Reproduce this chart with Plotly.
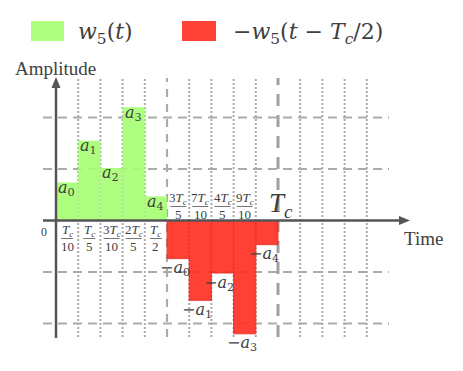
import plotly.graph_objects as go

# coefficient amplitudes a0..a4 and their time slots (units of Tc)
amplitudes = [0.74, 1.55, 1.02, 2.20, 0.47]
slot_starts = [0.0, 0.1, 0.2, 0.3, 0.4]
slot_width = 0.1
shift = 0.5
coef_names = ["0", "1", "2", "3", "4"]

# fraction tick labels (numerator, denominator)
left_ticks = [("<i>T<sub>c</sub></i>", "10"), ("<i>T<sub>c</sub></i>", "5"),
              ("3<i>T<sub>c</sub></i>", "10"), ("2<i>T<sub>c</sub></i>", "5"),
              ("<i>T<sub>c</sub></i>", "2")]
right_ticks = [("3<i>T<sub>c</sub></i>", "5"), ("7<i>T<sub>c</sub></i>", "10"),
               ("4<i>T<sub>c</sub></i>", "5"), ("9<i>T<sub>c</sub></i>", "10")]

W, H = 463, 371
PAD = 8                     # page body margin
X0PX, XSCALE = 56, 222.0    # px of t=0, px per Tc
Y0PX, YSCALE = 220.5, 51.5  # px of amplitude 0, px per unit

def tx(px):
    return (px - X0PX) / XSCALE

def ty(py):
    return (Y0PX - py) / YSCALE

def px_x(px):
    return (px - PAD) / (W - PAD)

def px_y(py):
    return 1 - (py - PAD) / (H - PAD)

SERIF = "Liberation Serif"
MATH = "DejaVu Serif"
TXT = "#404040"
GRID = "#ababab"
AXIS = "#555555"

fig = go.Figure()

centers = [s + slot_width / 2 for s in slot_starts]
fig.add_trace(go.Bar(x=centers, y=amplitudes, width=slot_width,
                     marker=dict(color="#a6ff72", line=dict(width=0)),
                     opacity=0.9, name="w5(t)"))
fig.add_trace(go.Bar(x=[c + shift for c in centers], y=[-a for a in amplitudes],
                     width=slot_width,
                     marker=dict(color="#ff2c20", line=dict(width=1, color="#e62a20")),
                     opacity=0.9, name="-w5(t-Tc/2)"))

shapes = []
top, bottom = ty(78), ty(337)
# vertical grid lines
for k in range(1, 15):
    t = k * slot_width
    if k % 5 == 0:
        thick = (k == 10)
        shapes.append(dict(type="line", x0=t, x1=t, y0=bottom, y1=top, layer="below",
                           line=dict(color="#a0a0a0" if thick else GRID,
                                     width=3 if thick else 2.2,
                                     dash="12px,9px" if thick else "8px,7px")))
    else:
        shapes.append(dict(type="line", x0=t, x1=t, y0=bottom, y1=top, layer="below",
                           line=dict(color=GRID, width=2, dash="2px,2px")))
# horizontal grid lines
for lv in [-2, -1, 1, 2]:
    shapes.append(dict(type="line", x0=tx(43), x1=1.5, y0=lv, y1=lv, layer="below",
                       line=dict(color=GRID, width=2.2, dash="9px,6px")))

# axes with arrow heads
shapes.append(dict(type="line", x0=0, x1=0, y0=ty(338), y1=ty(86),
                   line=dict(color=AXIS, width=2.5)))
shapes.append(dict(type="path", fillcolor=AXIS, line=dict(width=0),
                   path="M %f,%f L %f,%f L %f,%f Z" % (0, ty(77), tx(51.5), ty(88),
                                                       tx(60.5), ty(88))))
shapes.append(dict(type="line", x0=tx(43), x1=tx(400), y0=0, y1=0,
                   line=dict(color=AXIS, width=2.5)))
shapes.append(dict(type="path", fillcolor=AXIS, line=dict(width=0),
                   path="M %f,%f L %f,%f L %f,%f Z" % (tx(410), 0, tx(399), ty(Y0PX - 4.5),
                                                       tx(399), ty(Y0PX + 4.5))))

annotations = []

def label(x, y, text, size, family=SERIF, xshift=0, yshift=0, xref="x", yref="y"):
    annotations.append(dict(x=x, y=y, xref=xref, yref=yref, showarrow=False,
                            xanchor="center", yanchor="middle", align="center",
                            xshift=xshift, yshift=yshift, text=text,
                            font=dict(family=family, size=size, color=TXT)))

# coefficient labels
for s, a, n in zip(slot_starts, amplitudes, coef_names):
    label(s, a, "<i>a</i><sub>%s</sub>" % n, 16, MATH, xshift=10.5, yshift=-6)
    label(s + shift, -a, "−<i>a</i><sub>%s</sub>" % n, 16, MATH, xshift=8, yshift=-10)

# fraction tick labels
def add_frac(xc, num, den, ynum, yden, ybar, barw):
    label(xc, ty(ynum), num, 13)
    label(xc, ty(yden), den, 13)
    shapes.append(dict(type="line", x0=xc - barw / 2 / XSCALE, x1=xc + barw / 2 / XSCALE,
                       y0=ty(ybar), y1=ty(ybar), line=dict(color="#666666", width=0.9)))

for c, (num, den) in zip(centers, left_ticks):
    add_frac(c, num, den, 230.5, 246, 238.5, 16 if num[0].isdigit() else 12)
for c, (num, den) in zip([c + shift for c in centers], right_ticks):
    add_frac(c, num, den, 198.5, 214, 206.5, 16)

label(tx(44), ty(232), "0", 12)
label(tx(281), ty(205), "<i>T<sub>c</sub></i>", 27)
label(tx(423.5), ty(238), "Time", 19)
label(tx(55.5), ty(68), "Amplitude", 19)

# legend drawn by hand
for x0, x1, col in [(31, 64, "#b0ff80"), (182, 216, "#ff4136")]:
    shapes.append(dict(type="rect", xref="paper", yref="paper", x0=px_x(x0), x1=px_x(x1),
                       y0=px_y(41), y1=px_y(21), fillcolor=col, line=dict(width=0)))
label(px_x(105.5), px_y(33), "<i>w</i><sub>5</sub>(<i>t</i>)", 22, MATH,
      xref="paper", yref="paper")
label(px_x(308), px_y(33), "−<i>w</i><sub>5</sub>(<i>t</i> − <i>T<sub>c</sub></i>/2)", 22, MATH,
      xref="paper", yref="paper")

fig.update_layout(
    width=W - PAD, height=H - PAD, autosize=False,
    margin=dict(l=0, r=0, t=0, b=0),
    paper_bgcolor="white", plot_bgcolor="white",
    showlegend=False, barmode="overlay",
    xaxis=dict(range=[tx(PAD), tx(W)], visible=False, fixedrange=True),
    yaxis=dict(range=[ty(H), ty(PAD)], visible=False, fixedrange=True),
    shapes=shapes, annotations=annotations,
)

fig.write_html("out.html")
